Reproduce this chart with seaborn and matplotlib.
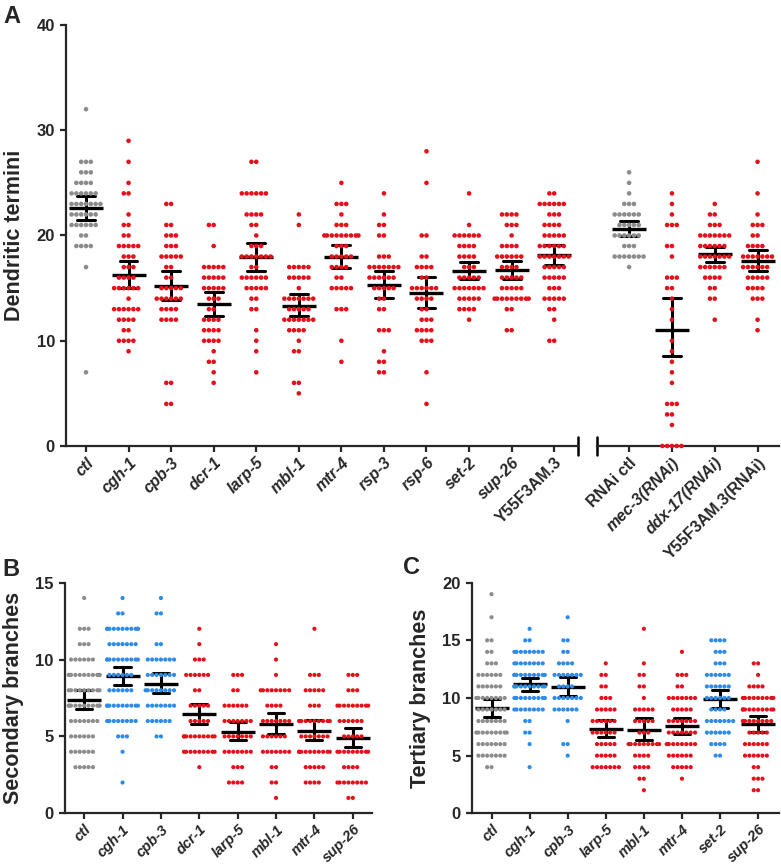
import numpy as np
import pandas as pd
import seaborn as sns
import matplotlib.pyplot as plt

# dot counts, per strain: {value: number of animals}
termini = {
    'ctl': {32: 1, 27: 3, 26: 3, 25: 4, 24: 6, 23: 7, 22: 6, 21: 6, 20: 2, 19: 4, 17: 1, 7: 1},
    'cgh-1': {29: 1, 27: 1, 25: 1, 24: 2, 22: 1, 21: 2, 20: 2, 19: 5, 18: 3, 17: 3, 16: 4, 15: 6,
              14: 1, 13: 6, 12: 4, 11: 2, 10: 4, 9: 1},
    'cpb-3': {23: 2, 21: 2, 20: 3, 19: 3, 18: 5, 17: 2, 16: 2, 15: 5, 14: 6, 13: 4, 12: 4, 6: 2, 4: 2},
    'dcr-1': {21: 2, 19: 1, 17: 5, 16: 5, 15: 5, 14: 3, 13: 2, 12: 4, 11: 4, 10: 4, 9: 1, 8: 2, 7: 1, 6: 1},
    'larp-5': {27: 2, 24: 6, 22: 4, 21: 2, 20: 1, 19: 3, 18: 7, 17: 2, 16: 6, 15: 5, 14: 2, 13: 2,
               11: 1, 10: 1, 9: 1, 7: 1},
    'mbl-1': {22: 1, 21: 1, 17: 5, 16: 5, 15: 1, 14: 7, 13: 5, 12: 7, 11: 4, 10: 1, 9: 2, 6: 2, 5: 1},
    'mtr-4': {25: 1, 23: 3, 22: 1, 21: 3, 20: 9, 19: 3, 18: 5, 17: 4, 16: 2, 15: 5, 13: 3, 10: 1, 8: 1},
    'rsp-3': {24: 1, 22: 1, 21: 2, 20: 2, 18: 3, 17: 7, 16: 6, 15: 5, 14: 2, 13: 2, 11: 3, 9: 1, 8: 2, 7: 2},
    'rsp-6': {28: 1, 25: 1, 20: 2, 18: 2, 17: 4, 16: 2, 15: 6, 14: 4, 13: 2, 12: 3, 11: 4, 10: 3, 7: 1, 4: 1},
    'set-2': {24: 1, 21: 1, 20: 6, 19: 4, 18: 4, 17: 3, 16: 5, 15: 7, 14: 5, 13: 4, 12: 1},
    'sup-26': {22: 4, 21: 3, 20: 1, 19: 4, 18: 6, 17: 4, 16: 5, 15: 5, 14: 9, 13: 2, 11: 2},
    'Y55F3AM.3': {24: 2, 23: 6, 22: 3, 21: 4, 20: 5, 19: 6, 18: 7, 17: 5, 16: 5, 15: 3, 14: 5, 13: 2,
                  12: 1, 10: 2},
}
termini_rnai = {
    'RNAi ctl': {26: 1, 25: 1, 24: 1, 23: 3, 22: 6, 21: 5, 20: 6, 19: 3, 18: 7, 17: 1},
    'mec-3(RNAi)': {24: 1, 23: 1, 22: 1, 21: 3, 19: 2, 18: 1, 16: 3, 15: 2, 14: 1, 13: 1, 12: 1, 10: 1,
                    9: 1, 8: 1, 7: 1, 6: 1, 4: 3, 3: 2, 2: 1, 0: 5},
    'ddx-17(RNAi)': {23: 1, 22: 2, 21: 3, 20: 7, 19: 6, 18: 7, 17: 6, 16: 4, 15: 2, 14: 2, 12: 1},
    'Y55F3AM.3(RNAi)': {27: 1, 24: 1, 22: 1, 21: 3, 20: 2, 19: 4, 18: 7, 17: 6, 16: 5, 15: 4, 14: 3,
                        12: 1, 11: 1},
}
secondary = {
    'ctl': {14: 1, 12: 3, 11: 3, 10: 6, 9: 11, 8: 9, 7: 11, 6: 7, 5: 6, 4: 6, 3: 5},
    'cgh-1': {14: 1, 13: 2, 12: 11, 11: 7, 10: 10, 9: 6, 8: 6, 7: 10, 6: 8, 5: 3, 4: 1, 2: 1},
    'cpb-3': {14: 1, 13: 2, 11: 2, 10: 7, 9: 7, 8: 8, 7: 7, 6: 6, 5: 2},
    'dcr-1': {12: 1, 11: 1, 10: 3, 9: 6, 8: 2, 7: 5, 6: 5, 5: 10, 4: 9, 3: 1},
    'larp-5': {9: 3, 8: 2, 7: 6, 6: 7, 5: 7, 4: 7, 3: 3, 2: 4},
    'mbl-1': {11: 1, 10: 1, 9: 1, 8: 8, 7: 4, 6: 7, 5: 6, 4: 7, 3: 2, 2: 2, 1: 1},
    'mtr-4': {12: 1, 9: 3, 8: 5, 7: 3, 6: 9, 5: 7, 4: 10, 3: 5, 2: 4},
    'sup-26': {9: 3, 8: 3, 7: 9, 6: 6, 5: 5, 4: 9, 3: 4, 2: 8, 1: 2},
}
tertiary = {
    'ctl': {19: 1, 17: 1, 15: 2, 14: 2, 13: 3, 12: 6, 11: 6, 10: 8, 9: 7, 8: 7, 7: 9, 6: 7, 5: 7, 4: 2},
    'cgh-1': {16: 1, 15: 2, 14: 8, 13: 8, 12: 10, 11: 10, 10: 9, 9: 8, 8: 2, 7: 2, 6: 1, 4: 1},
    'cpb-3': {17: 1, 15: 2, 14: 2, 13: 4, 12: 7, 11: 4, 10: 7, 9: 6, 8: 1, 6: 2, 5: 1},
    'larp-5': {13: 1, 12: 2, 11: 2, 10: 3, 9: 5, 8: 6, 7: 6, 6: 5, 5: 5, 4: 7},
    'mbl-1': {16: 1, 13: 1, 12: 2, 11: 2, 10: 1, 9: 5, 8: 5, 7: 3, 6: 9, 5: 4, 4: 4, 3: 2, 2: 1},
    'mtr-4': {14: 1, 12: 3, 11: 2, 10: 7, 9: 5, 8: 7, 7: 7, 6: 8, 5: 6, 4: 5, 3: 1},
    'set-2': {15: 4, 14: 3, 13: 3, 12: 6, 11: 6, 10: 6, 9: 4, 8: 7, 7: 6, 6: 4, 5: 2},
    'sup-26': {13: 2, 12: 1, 11: 4, 10: 9, 9: 10, 8: 8, 7: 5, 6: 6, 5: 6, 4: 2, 3: 3, 2: 2},
}

GREY, RED, BLUE = '#8c8c8c', '#e3111b', '#2f8be8'
controls = ['ctl', 'RNAi ctl']
blue_b = ['cgh-1', 'cpb-3']
blue_c = ['cgh-1', 'cpb-3', 'set-2']
upright = ['Y55F3AM.3', 'Y55F3AM.3(RNAi)', 'RNAi ctl']


def to_frame(counts):
    rows = [(g, v) for g, c in counts.items() for v, n in c.items() for _ in range(n)]
    return pd.DataFrame(rows, columns=['group', 'value'])


def colours(order, blues):
    return {g: GREY if g in controls else (BLUE if g in blues else RED) for g in order}


def dot_panel(ax, counts, blues, size, lsize, ymax, step):
    df = to_frame(counts)
    order = list(counts)
    sns.swarmplot(data=df, x='group', y='value', order=order, hue='group', hue_order=order,
                  palette=colours(order, blues), size=size, legend=False, ax=ax,
                  clip_on=False, warn_thresh=1)
    sns.pointplot(data=df, x='group', y='value', order=order, errorbar=('ci', 95), seed=3,
                  color='black', markers='_', linestyles='none', capsize=0.42,
                  markersize=24, markeredgewidth=2.4, err_kws={'linewidth': 2.2}, ax=ax)
    ax.set_ylim(0, ymax)
    ax.set_yticks(np.arange(0, ymax + 1, step))
    ax.set_xlabel('')
    ax.set_ylabel('')
    ax.set_xticks(range(len(order)))
    ax.set_xticklabels(order, rotation=45, ha='right', rotation_mode='anchor', fontsize=lsize)
    for t in ax.get_xticklabels():
        t.set_style('normal' if t.get_text() in upright else 'italic')
    ax.tick_params(axis='both', width=1.6, length=4.5, labelsize=12)
    ax.tick_params(axis='x', labelsize=lsize, pad=2)
    for s in ['top', 'right']:
        ax.spines[s].set_visible(False)
    for s in ['left', 'bottom']:
        ax.spines[s].set_linewidth(1.6)
    return ax


sns.set_style('ticks')
plt.rcParams['font.family'] = ['Liberation Sans', 'DejaVu Sans']
plt.rcParams['font.weight'] = 'bold'
plt.rcParams['axes.labelweight'] = 'bold'

fig = plt.figure(figsize=(7.81, 8.65), dpi=100)

# panel A, broken x axis
ax1 = fig.add_axes([0.0845, 0.4844, 0.6556, 0.4867])
ax2 = fig.add_axes([0.7644, 0.4844, 0.2330, 0.4867])
dot_panel(ax1, termini, [], 3.3, 11.5, 40, 10)
dot_panel(ax2, termini_rnai, [], 3.3, 11.5, 40, 10)
ax1.set_xlim(-0.47, 11.56)
ax2.set_xlim(-0.75, 3.5)
ax2.spines['left'].set_visible(False)
ax2.tick_params(axis='y', left=False, labelleft=False)
ax1.set_ylabel('Dendritic termini', fontsize=15.5, labelpad=8)
ax1.plot([1, 1], [-0.022, 0.022], transform=ax1.transAxes, color='black', lw=1.8, clip_on=False)
ax2.plot([0, 0], [-0.022, 0.022], transform=ax2.transAxes, color='black', lw=1.8, clip_on=False)

# panel B
axB = fig.add_axes([0.0832, 0.0598, 0.3931, 0.2666])
dot_panel(axB, secondary, blue_b, 3.0, 10.5, 15, 5)
axB.set_xlim(-0.5, 7.5)
axB.set_ylabel('Secondary branches', fontsize=15.5, labelpad=8)

# panel C
axC = fig.add_axes([0.6040, 0.0598, 0.3935, 0.2666])
dot_panel(axC, tertiary, blue_c, 3.0, 10.5, 20, 5)
axC.set_xlim(-0.52, 7.55)
axC.set_ylabel('Tertiary branches', fontsize=15.5, labelpad=8)

for letter, x, y in [('A', 3, 5), ('B', 2, 558), ('C', 403, 556)]:
    fig.text(x / 781, 1 - y / 865, letter, fontsize=17, fontweight='bold', va='top', ha='left')

fig.savefig('out.png', dpi=100)
